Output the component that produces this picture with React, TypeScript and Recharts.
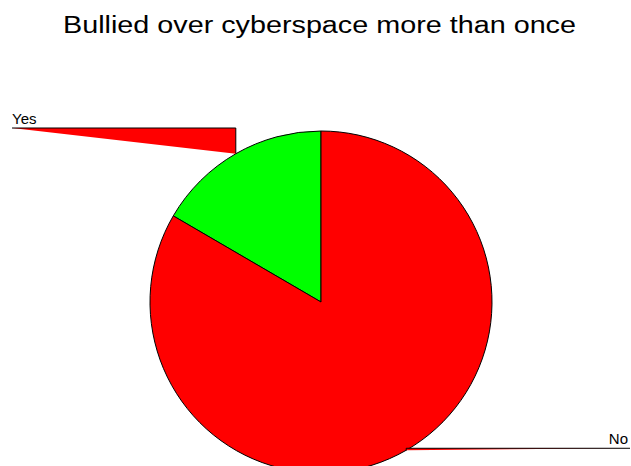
import React from "react";
import { PieChart, Pie, Cell } from "recharts";

const categories = ["Yes", "No"];
const values = [16.6, 83.4];
const colors = ["#00FF00", "#FF0000"];
const title = "Bullied over cyberspace more than once";

const data = categories.map((name, i) => ({ name, value: values[i] }));

const RAD = Math.PI / 180;

const renderLabel = (props: any) => {
  const { cx, cy, midAngle, outerRadius, index, name } = props;
  const px = cx + outerRadius * Math.cos(-midAngle * RAD);
  const py = cy + outerRadius * Math.sin(-midAngle * RAD);
  const left = px < cx;
  const lineY = left ? 128 : py - 2;
  const endX = left ? 12 : 630;
  const textX = left ? 12 : 628;
  const textY = lineY - 4;
  return (
    <g key={`lbl-${index}`}>
      <polygon points={`${endX},${lineY} ${px},${lineY} ${px},${py}`} fill="#FF0000" stroke="none" />
      <polyline points={`${endX},${lineY} ${px},${lineY} ${px},${py}`} fill="none" stroke="#000" strokeWidth={1} />
      <text
        x={textX}
        y={textY}
        textAnchor={left ? "start" : "end"}
        fontFamily="'Liberation Sans', Arial, sans-serif"
        fontSize={15}
        fill="#000"
      >
        {name}
      </text>
    </g>
  );
};

export default function App() {
  return (
    <div style={{ position: "relative", width: 631, height: 466, background: "#fff", overflow: "hidden" }}>
      <style>{`body{margin:0}`}</style>
      <svg width={631} height={60} style={{ position: "absolute", left: 0, top: 0 }}>
        <text
          x={319.5}
          y={33}
          textAnchor="middle"
          fontFamily="'Liberation Sans', Arial, sans-serif"
          fontSize={23}
          fill="#000"
          textLength={513}
          lengthAdjust="spacingAndGlyphs"
        >
          {title}
        </text>
      </svg>
      <PieChart
        width={631}
        height={466}
        margin={{ top: 0, right: 0, bottom: 0, left: 0 }}
        style={{ position: "absolute", left: 0, top: 0 }}
      >
        <Pie
          data={data}
          dataKey="value"
          nameKey="name"
          cx={321}
          cy={302}
          outerRadius={171}
          startAngle={90}
          endAngle={450}
          stroke="#000"
          strokeWidth={1}
          label={renderLabel}
          labelLine={false}
          isAnimationActive={false}
        >
          {data.map((d, i) => (
            <Cell key={d.name} fill={colors[i]} />
          ))}
        </Pie>
      </PieChart>
    </div>
  );
}
